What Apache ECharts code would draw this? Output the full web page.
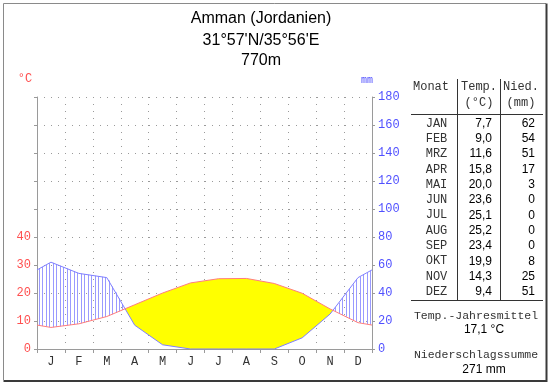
<!DOCTYPE html>
<html>
<head>
<meta charset="utf-8">
<script src="https://cdn.jsdelivr.net/npm/echarts@6/dist/echarts.min.js"></script>
<style>html,body{margin:0;padding:0;background:#fff}#c{width:550px;height:384px}</style>
</head>
<body>
<div id="c"></div>
<script>
const months = ['J','F','M','A','M','J','J','A','S','O','N','D'];
const monthAbbr = ['JAN','FEB','MRZ','APR','MAI','JUN','JUL','AUG','SEP','OKT','NOV','DEZ'];
const temps = [7.7, 9.0, 11.6, 15.8, 20.0, 23.6, 25.1, 25.2, 23.4, 19.9, 14.3, 9.4];
const precip = [62, 54, 51, 17, 3, 0, 0, 0, 0, 8, 25, 51];
const tempLabelMax = 40;
const titleLines = ['Amman (Jordanien)', "31°57'N/35°56'E", '770m'];

// x positions: edges (0,12) use mean of Dec/Jan, months at centers
const edgeT = (temps[0] + temps[11]) / 2;
const edgeP = (precip[0] + precip[11]) / 2;
const xs = [0].concat(months.map((m, i) => i + 0.5), [12]);
const tArr = [edgeT].concat(temps, [edgeT]);
const pArr = [edgeP].concat(precip, [edgeP]);
const t2Arr = tArr.map(v => v * 2); // temperature on mm scale (10°C = 20mm)

function interp(arr, x) {
  for (let i = 0; i < xs.length - 1; i++) {
    if (x >= xs[i] && x <= xs[i + 1]) {
      const f = (x - xs[i]) / (xs[i + 1] - xs[i]);
      return arr[i] + f * (arr[i + 1] - arr[i]);
    }
  }
  return arr[arr.length - 1];
}

const fmt1 = v => v.toFixed(1).replace('.', ',');
const meanT = temps.reduce((a, b) => a + b, 0) / temps.length;
const sumP = precip.reduce((a, b) => a + b, 0);

const RED = '#ff5050', REDLINE = '#ff7d7d', BLUE = '#5050ff', BLUELINE = '#7f7fff', HATCH = '#9a9aff';
const GRAY = '#9a9a9a';
const MONO = '"Liberation Mono", "DejaVu Sans Mono", monospace';
const SANS = '"Liberation Sans", Arial, sans-serif';

const chart = echarts.init(document.getElementById('c'), null, {renderer: 'canvas'});

function renderClimate(params, api) {
  if (params.dataIndex !== 0) return;
  const children = [];
  // arid polygons (yellow): where 2T > P
  let upper = null, lower = null;
  const d = xs.map((x, i) => t2Arr[i] - pArr[i]);
  for (let i = 0; i < xs.length; i++) {
    if (d[i] > 0) {
      if (!upper) {
        upper = []; lower = [];
        if (i > 0) {
          const f = d[i - 1] / (d[i - 1] - d[i]);
          const cx = xs[i - 1] + f * (xs[i] - xs[i - 1]);
          const cy = pArr[i - 1] + f * (pArr[i] - pArr[i - 1]);
          upper.push(api.coord([cx, cy]));
        }
      }
      upper.push(api.coord([xs[i], t2Arr[i]]));
      lower.push(api.coord([xs[i], pArr[i]]));
    }
    if (upper && (i === xs.length - 1 || d[i + 1] <= 0)) {
      if (i < xs.length - 1) {
        const f = d[i] / (d[i] - d[i + 1]);
        const cx = xs[i] + f * (xs[i + 1] - xs[i]);
        const cy = pArr[i] + f * (pArr[i + 1] - pArr[i]);
        upper.push(api.coord([cx, cy]));
      }
      const pts = upper.concat(lower.reverse());
      children.push({type: 'polygon', shape: {points: pts}, style: {fill: '#ffff00', stroke: null}});
      upper = null; lower = null;
    }
  }
  // humid hatching: vertical lines every 1/8 month where P > 2T
  for (let k = 0; k < 96; k++) {
    const x = (k + 0.5) / 8;
    const t = interp(t2Arr, x), p = interp(pArr, x);
    if (p > t) {
      const a = api.coord([x, t]), b = api.coord([x, p]);
      const px = Math.round(a[0]) + 0.5;
      children.push({type: 'line', shape: {x1: px, y1: a[1], x2: px, y2: b[1]}, style: {stroke: HATCH, lineWidth: 1}});
    }
  }
  return {type: 'group', children};
}

// graphic elements: title, frame, unit labels, table
const graphics = [];
// frame
graphics.push({type: 'polyline', shape: {points: [[3.5, 380], [3.5, 3.5], [546, 3.5]]}, style: {stroke: '#8a8a8a', lineWidth: 1, fill: null}, silent: true});
graphics.push({type: 'polyline', shape: {points: [[3.5, 381], [546.5, 381], [546.5, 3.5]]}, style: {stroke: '#3a3a3a', lineWidth: 2, fill: null}, silent: true});
// titles
const titleY = [18.7, 40.7, 60.7];
titleLines.forEach((t, i) => graphics.push({type: 'text', x: 261, y: titleY[i], style: {text: t, font: '16px ' + SANS, fill: '#000', align: 'center', verticalAlign: 'middle'}}));
// units
graphics.push({type: 'text', x: 25, y: 79, style: {text: '°C', font: '12px ' + MONO, fill: RED, align: 'center', verticalAlign: 'middle'}});
graphics.push({type: 'text', x: 367, y: 80, style: {text: 'mm', font: '10px ' + MONO, fill: BLUE, align: 'center', verticalAlign: 'middle'}});
// table lines
graphics.push({type: 'line', shape: {x1: 457.5, y1: 79, x2: 457.5, y2: 300}, style: {stroke: '#333', lineWidth: 1}});
graphics.push({type: 'line', shape: {x1: 500.5, y1: 79, x2: 500.5, y2: 300}, style: {stroke: '#333', lineWidth: 1}});
graphics.push({type: 'line', shape: {x1: 411, y1: 114.5, x2: 543, y2: 114.5}, style: {stroke: '#333', lineWidth: 1}});
graphics.push({type: 'line', shape: {x1: 411, y1: 300.5, x2: 543, y2: 300.5}, style: {stroke: '#333', lineWidth: 1}});
// header
const hdr = (t, x, y, size) => graphics.push({type: 'text', x, y, style: {text: t, font: (size || 12) + 'px ' + MONO, fill: '#333', align: 'center', verticalAlign: 'middle'}});
hdr('Monat', 431, 87);
hdr('Temp.', 479, 87);
hdr('(°C)', 479, 103);
hdr('Nied.', 521, 87);
hdr('(mm)', 521, 103);
// rows
monthAbbr.forEach((m, i) => {
  const y = 123.5 + i * 15.3;
  graphics.push({type: 'text', x: 436.5, y, style: {text: m, font: '12px ' + MONO, fill: '#333', align: 'center', verticalAlign: 'middle'}});
  graphics.push({type: 'text', x: 492, y, style: {text: fmt1(temps[i]), font: '12px ' + SANS, fill: '#000', align: 'right', verticalAlign: 'middle'}});
  graphics.push({type: 'text', x: 535, y, style: {text: String(precip[i]), font: '12px ' + SANS, fill: '#000', align: 'right', verticalAlign: 'middle'}});
});
// footer
hdr('Temp.-Jahresmittel', 476, 316, 11.5);
graphics.push({type: 'text', x: 484, y: 330, style: {text: fmt1(meanT) + ' °C', font: '12px ' + SANS, fill: '#000', align: 'center', verticalAlign: 'middle'}});
hdr('Niederschlagssumme', 476, 355, 11.5);
graphics.push({type: 'text', x: 484, y: 370, style: {text: sumP + ' mm', font: '12px ' + SANS, fill: '#000', align: 'center', verticalAlign: 'middle'}});

const option = {
  backgroundColor: '#ffffff',
  animation: false,
  grid: {left: 37, right: 178, top: 97, bottom: 35, containLabel: false},
  xAxis: [
    {type: 'value', min: 0, max: 12, interval: 1,
     axisLine: {show: true, onZero: false, lineStyle: {color: GRAY, width: 1}},
     axisTick: {show: true, length: 4, lineStyle: {color: GRAY}},
     axisLabel: {show: false},
     splitLine: {show: true, lineStyle: {color: GRAY, type: [1, 6], width: 1}}},
    {type: 'category', data: months, boundaryGap: true, position: 'bottom', gridIndex: 0,
     axisLine: {show: false}, axisTick: {show: false}, splitLine: {show: false},
     axisLabel: {color: '#333', fontFamily: MONO, fontSize: 12, margin: 7}}
  ],
  yAxis: [
    {type: 'value', min: 0, max: 90, interval: 10, position: 'left',
     axisLine: {show: true, lineStyle: {color: GRAY}},
     axisTick: {show: true, length: 3, lineStyle: {color: GRAY}},
     axisLabel: {color: RED, fontFamily: MONO, fontSize: 12, margin: 6,
                 formatter: v => (v <= tempLabelMax ? String(v) : '')},
     splitLine: {show: true, lineStyle: {color: GRAY, type: [1, 6], width: 1}}},
    {type: 'value', min: 0, max: 180, interval: 20, position: 'right',
     axisLine: {show: true, lineStyle: {color: GRAY}},
     axisTick: {show: true, length: 3, lineStyle: {color: GRAY}},
     axisLabel: {color: BLUE, fontFamily: MONO, fontSize: 12, margin: 6},
     splitLine: {show: false}}
  ],
  series: [
    {type: 'custom', xAxisIndex: 0, yAxisIndex: 1, renderItem: renderClimate, data: [[0, 0]], z: 1, silent: true},
    {name: 'Niederschlag', type: 'line', xAxisIndex: 0, yAxisIndex: 1, data: xs.map((x, i) => [x, pArr[i]]),
     showSymbol: false, lineStyle: {color: BLUELINE, width: 1}, z: 3},
    {name: 'Temperatur', type: 'line', xAxisIndex: 0, yAxisIndex: 0, data: xs.map((x, i) => [x, tArr[i]]),
     showSymbol: false, lineStyle: {color: REDLINE, width: 1}, z: 4}
  ],
  graphic: graphics
};
chart.setOption(option);
</script>
</body>
</html>
